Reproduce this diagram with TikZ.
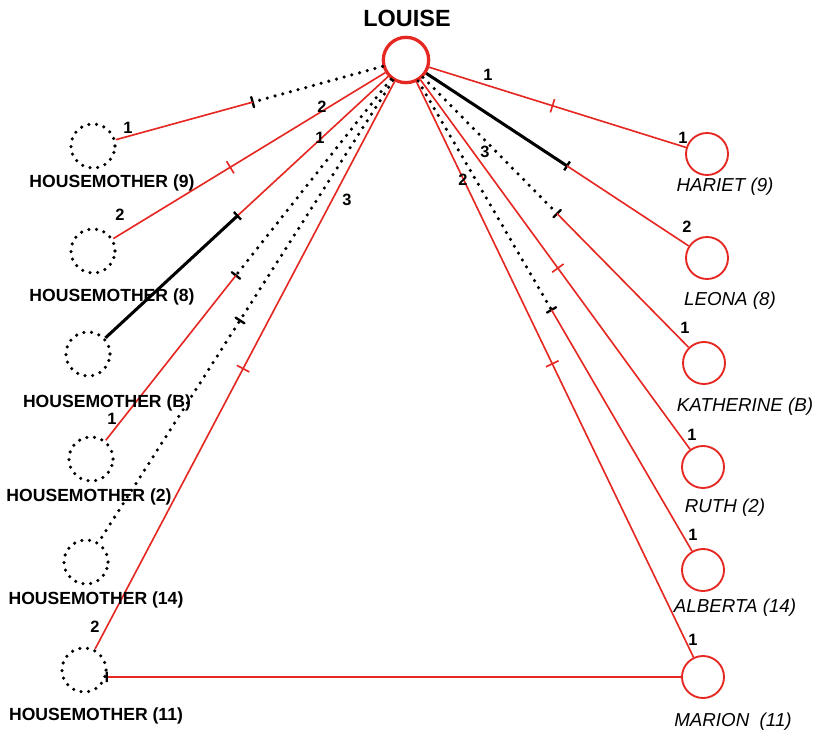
\documentclass[tikz,border=0pt]{standalone}
\usepackage{fontspec}
\setmainfont{Liberation Sans}
\usetikzlibrary{calc,decorations.markings}
\definecolor{pen}{RGB}{230,40,35}
\tikzset{
	girl/.style={circle,draw=pen,line width=1.6pt,minimum size=1.26cm,inner sep=0pt},
	mother/.style={circle,draw,line width=3pt,dash pattern=on 0pt off 6.6pt,line cap=round,minimum size=1.32cm,inner sep=0pt},
	redline/.style={draw=pen,line width=1.4pt},
	dotline/.style={draw,line width=3pt,dash pattern=on 0pt off 6.8pt,line cap=round},
	heavy/.style={draw,line width=2.6pt},
	redtick/.style={postaction={decorate,decoration={markings,mark=at position #1 with {\draw[pen,line width=1.4pt,solid] (0,-6pt) -- (0,6pt);}}}},
	blacktick/.style={postaction={decorate,decoration={markings,mark=at position #1 with {\draw[black,line width=2pt,solid] (0,-4.5pt) -- (0,4.5pt);}}}},
	lbl/.style={font=\fontsize{15}{18}\selectfont\bfseries},
	rlbl/.style={font=\fontsize{16}{19}\selectfont\itshape},
	num/.style={font=\fontsize{14}{16}\selectfont\bfseries}
}
\begin{document}
\begin{tikzpicture}[x=0.03cm,y=-0.03cm]
	\useasboundingbox (0,0) rectangle (821,737);
	\node[girl,line width=2.8pt,minimum size=1.36cm] (louise) at (406,60) {};
	\node[font=\fontsize{20}{24}\selectfont\bfseries] (louisetxt) at (407,18) {LOUISE};
	\node[mother] (hm9) at (93,146) {};
	\node[mother] (hm8) at (93,251) {};
	\node[mother] (hmb) at (88,354) {};
	\node[mother] (hm2) at (91,459) {};
	\node[mother] (hm14) at (86,562) {};
	\node[mother] (hm11) at (84,670) {};
	\node[girl] (hariet) at (707,154) {};
	\node[girl] (leona) at (707,258) {};
	\node[girl] (katherine) at (704,363) {};
	\node[girl] (ruth) at (703,467) {};
	\node[girl] (alberta) at (703,570) {};
	\node[girl] (marion) at (703,677) {};
	\coordinate (j9) at ($(louise)!0.49!(hm9)$);
	\coordinate (jb) at ($(louise)!0.53!(hmb)$);
	\coordinate (j2) at ($(louise)!0.54!(hm2)$);
	\coordinate (jl) at ($(louise)!0.535!(leona)$);
	\coordinate (jk) at ($(louise)!0.507!(katherine)$);
	\coordinate (ja) at ($(louise)!0.49!(alberta)$);
	\draw[dotline,blacktick=1] (louise) -- (j9);
	\draw[redline] (j9) -- (hm9);
	\draw[redline,redtick=0.57] (louise) -- (hm8);
	\draw[redline] (louise) -- (jb);
	\draw[heavy,blacktick=0] (jb) -- (hmb);
	\draw[dotline,blacktick=1] (louise) -- (j2);
	\draw[redline] (j2) -- (hm2);
	\draw[dotline,blacktick=0.52] (louise) -- (hm14);
	\draw[redline,redtick=0.506] (louise) -- (hm11);
	\draw[redline,blacktick=0] (hm11.-17) -- (marion.west);
	\draw[redline,redtick=0.48] (louise) -- (hariet);
	\draw[heavy,blacktick=1] (louise) -- (jl);
	\draw[redline] (jl) -- (leona);
	\draw[dotline,blacktick=1] (louise) -- (jk);
	\draw[redline] (jk) -- (katherine);
	\draw[redline,redtick=0.51] (louise) -- (ruth);
	\draw[dotline,blacktick=1] (louise) -- (ja);
	\draw[redline] (ja) -- (alberta);
	\draw[redline,redtick=0.49] (louise) -- (marion);
	\node[num] (n1) at (128,128) {1};
	\node[num] (n2) at (322,107) {2};
	\node[num] (n3) at (320,138) {1};
	\node[num] (n4) at (347,200) {3};
	\node[num] (n5) at (120,215) {2};
	\node[num] (n6) at (112,419) {1};
	\node[num] (n7) at (95,627) {2};
	\node[num] (n8) at (488,75) {1};
	\node[num] (n9) at (485,152) {3};
	\node[num] (n10) at (463,180) {2};
	\node[num] (n11) at (683,138) {1};
	\node[num] (n12) at (687,227) {2};
	\node[num] (n13) at (685,328) {1};
	\node[num] (n14) at (692,435) {1};
	\node[num] (n15) at (693,535) {1};
	\node[num] (n16) at (693,640) {1};
	\node[lbl] (t9) at (112,183) {HOUSEMOTHER (9)};
	\node[lbl] (t8) at (112,297) {HOUSEMOTHER (8)};
	\node[lbl] (tb) at (107,403) {HOUSEMOTHER (B)};
	\node[lbl] (t2) at (89,497) {HOUSEMOTHER (2)};
	\node[lbl] (t14) at (96,600) {HOUSEMOTHER (14)};
	\node[lbl] (t11) at (96,716) {HOUSEMOTHER (11)};
	\node[rlbl] (tharie) at (725,187) {HARIET (9)};
	\node[rlbl] (tleona) at (730,301) {LEONA (8)};
	\node[rlbl] (tkath) at (745,407) {KATHERINE (B)};
	\node[rlbl] (truth) at (725,508) {RUTH (2)};
	\node[rlbl] (talb) at (735,608) {ALBERTA (14)};
	\node[rlbl] (tmar) at (733,722) {MARION\ \ (11)};
\end{tikzpicture}
\end{document}
